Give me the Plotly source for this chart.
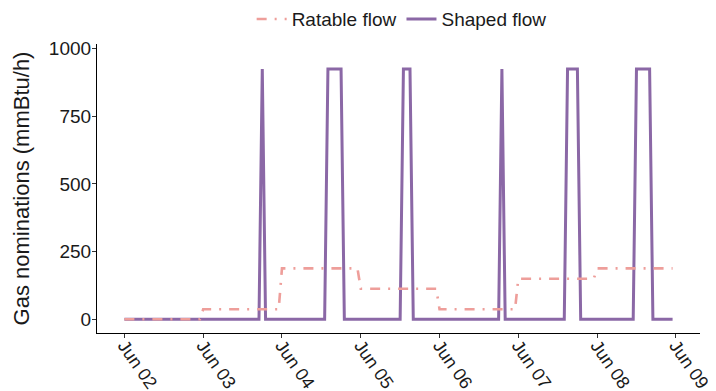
import numpy as np
import pandas as pd
import plotly.graph_objects as go

# ---- data (hourly, Jun 02 00:00 .. Jun 08 23:00) ----
start_time = "2021-06-02 00:00"
n_hours = 168

# Ratable flow: one daily nomination, held constant through each day
day_labels = ["Jun 02", "Jun 03", "Jun 04", "Jun 05", "Jun 06", "Jun 07", "Jun 08"]
ratable_daily = [0, 37, 188, 113, 37, 150, 188]

# Shaped flow: hourly values, one row per day (hours 0..23)
shaped_jun02 = [0]*24
shaped_jun03 = [0]*18 + [925] + [0]*5
shaped_jun04 = [0]*14 + [925, 925, 925, 925, 925] + [0]*5
shaped_jun05 = [0]*13 + [925, 925, 925] + [0]*8
shaped_jun06 = [0]*19 + [925] + [0]*4
shaped_jun07 = [0]*15 + [925, 925, 925, 925] + [0]*5
shaped_jun08 = [0]*12 + [925, 925, 925, 925, 925] + [0]*7

tick_dates = ["2021-06-02", "2021-06-03", "2021-06-04", "2021-06-05",
              "2021-06-06", "2021-06-07", "2021-06-08", "2021-06-09"]
tick_labels = ["Jun 02", "Jun 03", "Jun 04", "Jun 05", "Jun 06", "Jun 07", "Jun 08", "Jun 09"]
y_ticks = [0, 250, 500, 750, 1000]

times = pd.date_range(start_time, periods=n_hours, freq="h")
ratable = np.repeat(ratable_daily, 24)
shaped = (shaped_jun02 + shaped_jun03 + shaped_jun04 + shaped_jun05
          + shaped_jun06 + shaped_jun07 + shaped_jun08)

PURPLE = "#8B68A6"
PINK = "#EE9E9A"
FONT = "Liberation Sans, Arial, sans-serif"

fig = go.Figure()
fig.add_trace(go.Scatter(
    x=times, y=shaped, mode="lines", name="Shaped flow",
    line=dict(color=PURPLE, width=3), legendrank=2,
))
fig.add_trace(go.Scatter(
    x=times, y=ratable, mode="lines", name="Ratable flow",
    line=dict(color=PINK, width=2.6, dash="10px,8px,2px,8px"), legendrank=1,
))

pad = pd.Timedelta(hours=8.35)
fig.update_layout(
    width=708, height=383,
    margin=dict(l=89, r=16, t=36, b=58),
    paper_bgcolor="white", plot_bgcolor="white",
    font=dict(family=FONT, size=19, color="#1a1a1a"),
    showlegend=True,
    legend=dict(orientation="h", xref="container", yref="container",
                x=0.556, xanchor="center", y=0.971, yanchor="middle",
                font=dict(size=19, color="#1a1a1a"), traceorder="normal",
                itemwidth=30, bgcolor="rgba(0,0,0,0)"),
    xaxis=dict(
        range=[times[0] - pad, times[-1] + pad],
        tickmode="array", tickvals=pd.to_datetime(tick_dates), ticktext=tick_labels,
        tickangle=55, ticks="outside", ticklen=4, tickcolor="#333333",
        showline=True, linecolor="black", linewidth=1.2,
        showgrid=False, zeroline=False, automargin=False,
        ticklabelstandoff=-10,
        tickfont=dict(size=18, color="#1a1a1a"),
    ),
    yaxis=dict(
        range=[-50.6, 1017],
        tickmode="array", tickvals=y_ticks,
        ticks="outside", ticklen=4, tickcolor="#333333",
        showline=True, linecolor="black", linewidth=1.2,
        showgrid=False, zeroline=False, automargin=False,
        ticklabelstandoff=-3,
        tickfont=dict(size=19, color="#1a1a1a"),
        title=dict(text="Gas nominations (mmBtu/h)", font=dict(size=22, color="#1a1a1a"), standoff=13),
    ),
)

fig.write_html("out.html")
